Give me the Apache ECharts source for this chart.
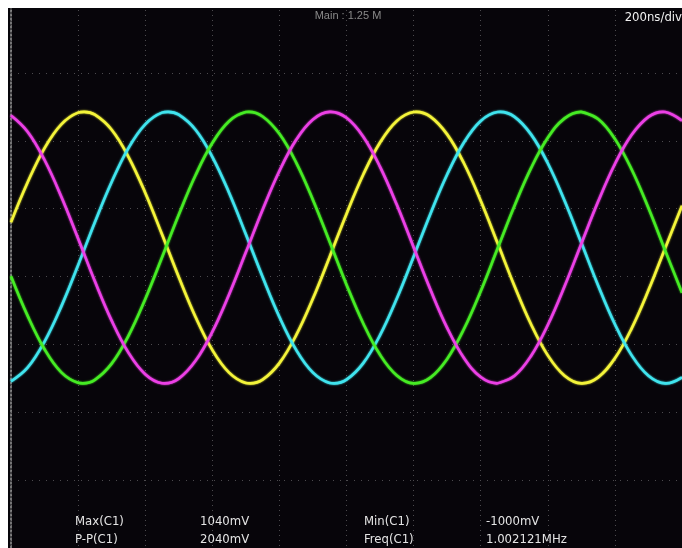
<!DOCTYPE html>
<html><head><meta charset="utf-8">
<script src="https://cdn.jsdelivr.net/npm/echarts@6/dist/echarts.min.js"></script>
<style>html,body{margin:0;padding:0;background:#fff}#c{width:682px;height:548px}</style>
</head><body><div id="c"></div>
<script>
// time in ns (200 ns/div)
const timeNs = [0,50,100,150,200,250,300,350,400,450,500,550,600,650,700,750,800,850,900,950,1000,1050,1100,1150,1200,1250,1300,1350,1400,1450,1500,1550,1600,1650,1700,1750,1800,1850,1900,1950,2000];
// trace values in mV sampled at timeNs
const yellow = [187,483,733,908,994,979,868,669,404,98,-217,-511,-754,-921,-997,-973,-851,-645,-375,-67,248,538,774,933,999,965,834,621,345,35,-279,-565,-794,-944,-1000,-956,-816,-595,-315,-3,309];
const cyan = [-985,-883,-692,-433,-130,187,483,733,908,994,979,868,669,404,98,-217,-511,-754,-921,-997,-973,-851,-645,-375,-67,248,538,774,933,999,965,834,621,345,35,-279,-565,-794,-944,-1000,-956];
const green = [-211,-505,-749,-919,-996,-974,-855,-650,-380,-73,242,533,770,931,998,966,838,626,351,41,-273,-559,-790,-942,-1000,-958,-820,-600,-321,-9,303,585,809,952,1000,948,801,575,291,-23,-333];
const magenta = [973,852,645,375,67,-248,-538,-774,-933,-999,-965,-834,-621,-345,-35,279,564,794,944,1000,956,817,595,315,3,-309,-591,-813,-954,-1000,-946,-798,-570,-285,29,339,616,831,963,999,935];
// read-off peak / trough positions (ns) and levels (mV) for each trace
const yellowExtNs = [218, 713, 1208, 1703];
const yellowExtMv = [1000, -1000, 1000, -1000];
const cyanExtNs = [468, 963, 1458, 1953];
const cyanExtMv = [1000, -1000, 1000, -1000];
const greenExtNs = [214, 709, 1204, 1699];
const greenExtMv = [-1000, 1000, -1000, 1000];
const magentaExtNs = [458, 953, 1448, 1943];
const magentaExtMv = [-1000, 1000, -1000, 1000];
const traceNames = ['C1','C2','C3','C4'];
const traceColors = ['#f4f43a','#40e4ee','#46ec24','#ec40e6'];
const measLabels = [['Max(C1)','1040mV','Min(C1)','-1000mV'],['P-P(C1)','2040mV','Freq(C1)','1.002121MHz']];
const headerText = 'Main : 1.25 M';
const timebaseText = '200ns/div';

const chart = echarts.init(document.getElementById('c'));
const traces = [[yellow, yellowExtNs, yellowExtMv], [cyan, cyanExtNs, cyanExtMv], [green, greenExtNs, greenExtMv], [magenta, magentaExtNs, magentaExtMv]];
const series = traces.map((tr, i) => {
  const pts = timeNs.map((t, j) => [t, tr[0][j]]).concat(tr[1].map((t, j) => [t, tr[2][j]]));
  pts.sort((a, b) => a[0] - b[0]);
  return {
    name: traceNames[i], type: 'line', yAxisIndex: 1, showSymbol: false, smooth: 0.4,
    data: pts,
    lineStyle: { width: 2.6, color: traceColors[i], shadowBlur: 2, shadowColor: traceColors[i], join: 'round' },
    itemStyle: { color: traceColors[i] }, animation: false, z: 3
  };
});
const font = '13px "DejaVu Sans Condensed", "DejaVu Sans", sans-serif';
const measX = [75, 200, 364, 486];
const measY = [522, 540];
const texts = [];
measLabels.forEach((row, r) => row.forEach((s, c) => texts.push({
  type: 'text', z: 50, style: { text: s, x: measX[c], y: measY[r], fill: '#e4e4e4', font: font, textVerticalAlign: 'middle' }
})));
chart.setOption({
  backgroundColor: '#07050a',
  animation: false,
  grid: { left: 11, top: 5, width: 680, height: 544, containLabel: false },
  xAxis: { type: 'value', min: 0, max: 2000, interval: 200,
    axisLine: { show: false }, axisTick: { show: false }, axisLabel: { show: false },
    splitLine: { show: true, lineStyle: { color: '#4c4a4e', type: [1, 4], width: 1 } } },
  yAxis: [
    { type: 'value', min: 0, max: 8, interval: 1,
      axisLine: { show: true, lineStyle: { color: '#9a9a9a', type: [2, 2], width: 1.5 } },
      axisTick: { show: false }, axisLabel: { show: false },
      splitLine: { show: true, lineStyle: { color: '#4c4a4e', type: [1, 6], width: 1 } } },
    { type: 'value', min: -2213, max: 1787, show: false, splitLine: { show: false } }
  ],
  series: series,
  graphic: [
    { type: 'rect', z: 100, shape: { x: 0, y: 0, width: 682, height: 8 }, style: { fill: '#ffffff' } },
    { type: 'rect', z: 100, shape: { x: 0, y: 0, width: 8, height: 548 }, style: { fill: '#ffffff' } },
    { type: 'text', z: 50, style: { text: headerText, x: 348, y: 16, fill: '#8a8a8a', font: '11px "Liberation Sans", sans-serif', textAlign: 'center', textVerticalAlign: 'middle' } },
    { type: 'text', z: 50, style: { text: timebaseText, x: 682, y: 18, fill: '#f0f0f0', font: '13px "DejaVu Sans Condensed", "DejaVu Sans", sans-serif', textAlign: 'right', textVerticalAlign: 'middle' } }
  ].concat(texts)
});
</script></body></html>
